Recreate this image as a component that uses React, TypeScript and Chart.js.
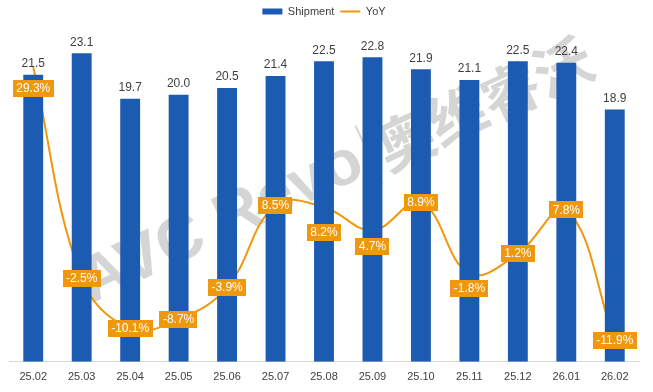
import React, { useEffect, useRef } from "react";
import { Chart, registerables } from "chart.js";

Chart.register(...registerables);

const categories = ["25.02", "25.03", "25.04", "25.05", "25.06", "25.07", "25.08", "25.09", "25.10", "25.11", "25.12", "26.01", "26.02"];
const shipment = [21.5, 23.1, 19.7, 20.0, 20.5, 21.4, 22.5, 22.8, 21.9, 21.1, 22.5, 22.4, 18.9];
const yoy = [29.3, -2.5, -10.1, -8.7, -3.9, 8.5, 8.2, 4.7, 8.9, -1.8, 1.2, 7.8, -11.9];

// label nudges (px, downward) for YoY labels that sit below their points
const yoyLabelNudge = [21, 0, 0, 0, 0, 0, 25, 16, 0, 15, 0, 0, 0];

const BLUE = "#1B5BB1";
const ORANGE = "#EF980D";
const FONT = "'Liberation Sans', Arial, sans-serif";

const watermarkPlugin = {
  id: "watermark",
  beforeDatasetsDraw(chart: any) {
    const ctx = chart.ctx;
    ctx.save();
    ctx.translate(336, 170);
    ctx.rotate((-25 * Math.PI) / 180);
    ctx.fillStyle = "rgba(195,195,195,0.7)";
    ctx.textBaseline = "middle";
    const latinFont = `bold 64px ${FONT}`;
    const cjkFont = `bold 58px 'Noto Sans CJK SC', sans-serif`;
    const a = "AVC Revo";
    const b = "奥维睿沃";
    ctx.font = latinFont;
    const wa = ctx.measureText(a).width;
    ctx.font = cjkFont;
    const wb = ctx.measureText(b).width;
    const gap = 20;
    const total = wa + gap + wb;
    let x = -total / 2;
    ctx.textAlign = "left";
    ctx.font = latinFont;
    ctx.fillText(a, x, 0);
    x += wa;
    ctx.fillRect(x + gap / 2 - 1, -32, 2, 64);
    x += gap;
    ctx.font = cjkFont;
    ctx.fillText(b, x, 2);
    ctx.restore();
  },
};

const labelPlugin = {
  id: "valueLabels",
  afterDatasetsDraw(chart: any) {
    const ctx = chart.ctx;
    ctx.save();
    const barMeta = chart.getDatasetMeta(0);
    ctx.font = `12px ${FONT}`;
    ctx.fillStyle = "#404040";
    ctx.textAlign = "center";
    ctx.textBaseline = "middle";
    barMeta.data.forEach((el: any, i: number) => {
      ctx.fillText(shipment[i].toFixed(1), el.x, el.y - 11);
    });
    const lineMeta = chart.getDatasetMeta(1);
    ctx.font = `12px ${FONT}`;
    lineMeta.data.forEach((el: any, i: number) => {
      const txt = yoy[i].toFixed(1) + "%";
      const w = ctx.measureText(txt).width + 7;
      const h = 17;
      const cx = el.x;
      const cy = el.y + yoyLabelNudge[i];
      ctx.fillStyle = ORANGE;
      ctx.fillRect(Math.round(cx - w / 2), Math.round(cy - h / 2), Math.round(w), h);
      ctx.fillStyle = "#FFFFFF";
      ctx.fillText(txt, cx, cy + 0.5);
    });
    ctx.restore();
  },
};

export default function App() {
  const ref = useRef<HTMLCanvasElement | null>(null);
  useEffect(() => {
    document.body.style.margin = "0";
    const canvas = ref.current;
    if (!canvas) return;
    const chart = new Chart(canvas, {
      type: "bar",
      data: {
        labels: categories,
        datasets: [
          {
            type: "bar",
            label: "Shipment",
            data: shipment,
            backgroundColor: BLUE,
            borderWidth: 0,
            barPercentage: 0.41,
            categoryPercentage: 1,
            yAxisID: "y",
          },
          {
            type: "line",
            label: "YoY",
            data: yoy,
            borderColor: ORANGE,
            backgroundColor: ORANGE,
            borderWidth: 2,
            pointRadius: 0,
            tension: 0.4,
            yAxisID: "y1",
          },
        ] as any,
      },
      options: {
        animation: false,
        responsive: false,
        layout: { padding: { top: 0, left: 9, right: 14, bottom: 7 } },
        plugins: {
          tooltip: { enabled: false },
          legend: {
            display: true,
            position: "top",
            labels: {
              font: { family: FONT, size: 11 },
              color: "#404040",
              padding: 6,
              boxHeight: 6,
              usePointStyle: true,
              pointStyleWidth: 20,
              generateLabels: () => [
                { text: "Shipment", fillStyle: BLUE, strokeStyle: BLUE, lineWidth: 0, pointStyle: "rect", hidden: false, datasetIndex: 0, fontColor: "#404040" },
                { text: "YoY", fillStyle: ORANGE, strokeStyle: ORANGE, lineWidth: 2, pointStyle: "line", hidden: false, datasetIndex: 1, fontColor: "#404040" },
              ],
            },
          },
        },
        scales: {
          x: {
            grid: { display: false },
            border: { display: true, color: "#D9D9D9", width: 1 },
            ticks: { font: { family: FONT, size: 11 }, color: "#404040", padding: 1, maxRotation: 0 },
          },
          y: { display: false, min: 0, max: 25.07 },
          y1: { display: false, min: -15.1, max: 35.35 },
        },
      } as any,
      plugins: [watermarkPlugin, labelPlugin],
    });
    return () => chart.destroy();
  }, []);
  return (
    <div style={{ width: 653, height: 392 }}>
      <canvas ref={ref} width={653} height={392} style={{ display: "block" }} />
    </div>
  );
}
